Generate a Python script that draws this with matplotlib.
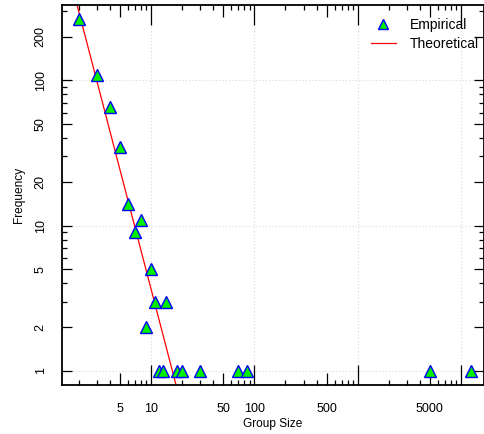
import numpy as np
import matplotlib.pyplot as plt
from matplotlib.lines import Line2D
from matplotlib.ticker import FixedLocator, NullFormatter

plt.rcParams.update({
    "font.family": ["Liberation Sans", "DejaVu Sans"],
    "font.size": 8,
})

# Donnees
group_size = [2, 3, 4, 5, 6, 7, 8, 9, 10, 11, 12, 13, 14, 18, 20, 30, 70, 84, 5000, 12500]
frequency = [265, 108, 66, 35, 14, 9, 11, 2, 5, 3, 1, 1, 3, 1, 1, 1, 1, 1, 1, 1]
# loi de puissance ajustee : f = C * s^-alpha
fit_const = 1972.0
fit_alpha = 2.73

x_major = [5, 10, 50, 100, 500, 1000, 5000, 10000]
x_labels = ["5", "10", "50", "100", "500", "", "5000", ""]
y_major = [1, 2, 5, 10, 20, 50, 100, 200]

fig = plt.figure(figsize=(4.84, 4.34), dpi=100)
ax = fig.add_axes([62 / 484, 49 / 434, 422 / 484, 380 / 434])
ax.set_xscale("log")
ax.set_yscale("log")
ax.set_xlim(1.376, 16700)
ax.set_ylim(0.80, 330)

# grille pointillee aux decades
for v in [10, 100, 1000, 10000]:
    ax.axvline(v, color="#d8d8d8", lw=0.8, ls=(0, (1, 2)), zorder=0)
for v in [1, 10, 100]:
    ax.axhline(v, color="#d8d8d8", lw=0.8, ls=(0, (1, 2)), zorder=0)

xs = np.logspace(np.log10(1.3), np.log10(30), 50)
ax.plot(xs, fit_const * xs ** (-fit_alpha), color="red", lw=0.9, zorder=2)
ax.plot(group_size, frequency, ls="none", marker="^", ms=9, mfc="#00ee00",
        mec="blue", mew=1.0, zorder=3)

# axes, ticks vers l'interieur
for s in ax.spines.values():
    s.set_linewidth(1.3)
ax.tick_params(which="both", direction="in", top=True, right=True, color="black",
               width=0.9, labelsize=9)
ax.xaxis.set_major_locator(FixedLocator(x_major))
ax.set_xticklabels(x_labels)
ax.xaxis.set_minor_locator(FixedLocator(
    [m * d for d in [1, 10, 100, 1000, 10000] for m in range(2, 10)
     if m * d not in x_major and m * d < 20000]))
ax.xaxis.set_minor_formatter(NullFormatter())
ax.yaxis.set_major_locator(FixedLocator(y_major))
ax.set_yticklabels([str(v) for v in y_major])
ax.yaxis.set_minor_locator(FixedLocator(
    [m * d for d in [1, 10, 100] for m in range(2, 10) if m * d not in y_major]))
ax.yaxis.set_minor_formatter(NullFormatter())
ax.tick_params(which="minor", length=3.6)
ax.tick_params(axis="x", which="major", pad=13)
ax.tick_params(axis="y", which="major", length=7.2, pad=11)

for v, t in zip(x_major, ax.xaxis.get_major_ticks()):
    L = 14.4 if v in (10, 100, 1000, 10000) else 8.6
    t.tick1line.set_markersize(L)
    t.tick2line.set_markersize(L)

for t in ax.get_yticklabels():
    t.set_rotation(90)
    t.set_va("center")

ax.set_xlabel("Group Size", fontsize=8.6, labelpad=2)
ax.set_ylabel("Frequency", fontsize=8.6, labelpad=7)

handles = [Line2D([], [], ls="none", marker="^", ms=7, mfc="#00ee00", mec="blue", mew=1.0),
           Line2D([], [], color="red", lw=0.9)]
ax.legend(handles, ["Empirical", "Theoretical"], loc="upper left",
          bbox_to_anchor=(0.715, 0.985), frameon=False, fontsize=10,
          handlelength=1.8, handletextpad=1.0, labelspacing=0.35, borderpad=0)

fig.savefig("out.png", dpi=100)
